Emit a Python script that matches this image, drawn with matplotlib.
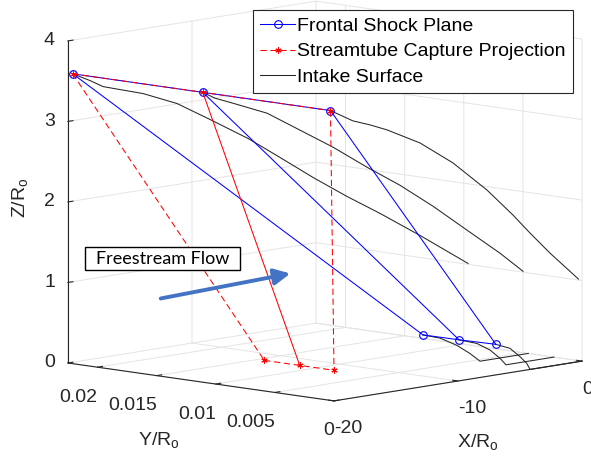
import numpy as np
import matplotlib.pyplot as plt
from matplotlib.lines import Line2D
from matplotlib.patches import FancyArrowPatch, Rectangle
from matplotlib.transforms import ScaledTranslation
from mpl_toolkits.mplot3d import proj3d

plt.rcParams['font.family'] = ['Liberation Sans', 'DejaVu Sans']
plt.rcParams['mathtext.default'] = 'regular'
plt.rcParams['axes.unicode_minus'] = False
plt.rcParams['grid.color'] = '#e4e4e4'
plt.rcParams['grid.linewidth'] = 0.7

# leading edge points (inlet plane X = -20)
top_x = [-20, -20, -20]
top_y = [0.0221, 0.0111, 0.0003]
top_z = [3.6, 3.6, 3.6]

# foot of the frontal shock plane
foot_x = [-7.2, -7.15, -6.95]
foot_y = [0.0059, 0.0029, 0.0]
foot_z = [0.38, 0.38, 0.38]

# streamtube capture projected on the inlet plane
cap_x = [-20, -20, -20]
cap_y = [0.0059, 0.0029, 0.0]
cap_z = [0.38, 0.38, 0.38]

# upper intake surface lines
s1_x = [-20, -19.12, -18.46, -17.6, -16.44, -14.72, -13.05, -11.13, -9.51, -7.84, -6.12, -4.45, -2.43, 0]
s1_y = [0.0221, 0.02155, 0.02114, 0.02061, 0.01988, 0.01881, 0.01777, 0.01657, 0.01556, 0.01452,
        0.01345, 0.01241, 0.01115, 0.00964]
s1_z = [3.6, 3.505, 3.423, 3.376, 3.313, 3.169, 2.951, 2.693, 2.438, 2.170, 1.914, 1.684, 1.387, 1.011]

s2_x = [-20, -19.23, -18.11, -17.05, -15.98, -13.92, -11.86, -9.74, -7.68, -5.62, -3.49, -1.43, 0]
s2_y = [0.0111, 0.01086, 0.01052, 0.0102, 0.00987, 0.00924, 0.00861, 0.00797, 0.00734, 0.00671,
        0.00606, 0.00543, 0.00499]
s2_z = [3.6, 3.513, 3.430, 3.349, 3.267, 3.018, 2.769, 2.482, 2.220, 1.922, 1.585, 1.261, 1.011]

s3_x = [-20, -19.07, -18.19, -16.81, -15.44, -12.78, -10.12, -7.38, -5.28, -3.91, -2.30, 0]
s3_y = [0.0003, 0.0003, 0.0003, 0.0003, 0.0003, 0.0003, 0.0003, 0.0003, 0.0003, 0.0003, 0.0003, 0.0003]
s3_z = [3.6, 3.511, 3.427, 3.343, 3.247, 3.019, 2.705, 2.301, 1.938, 1.681, 1.392, 1.012]

# lower intake surface lines
l1_x = [-7.2, -6.14, -5.21, -4.46, -3.9, 0]
l1_y = [0.0059, 0.00556, 0.00514, 0.0048, 0.00454, 0.00454]
l1_z = [0.38, 0.32, 0.218, 0.104, 0, 0]

l2_x = [-7.15, -5.91, -4.98, -4.28, -3.87, 0]
l2_y = [0.0029, 0.0027, 0.00255, 0.00244, 0.00237, 0.00237]
l2_z = [0.38, 0.309, 0.206, 0.088, 0, 0]

l3_x = [-6.95, -5.81, -5.0, -4.46, -4.19, 0]
l3_y = [0, 0, 0, 0, 0, 0]
l3_z = [0.38, 0.302, 0.178, 0.082, 0, 0]

x_ticks = [-20, -10, 0]
x_tick_labels = ['-20', '-10', '0']
y_ticks = [0, 0.005, 0.01, 0.015, 0.02]
y_tick_labels = ['0', '0.005', '0.01', '0.015', '0.02']
z_ticks = [0, 1, 2, 3, 4]
z_tick_labels = ['0', '1', '2', '3', '4']

labels = ['Frontal Shock Plane', 'Streamtube Capture Projection', 'Intake Surface']

blue = '#0000ff'
red = '#ff0000'
dark = '#262626'
ast = (6, 2, 0)
dash = (0, (6, 3.5))
lw = 0.75

W, H = 591, 461
fig = plt.figure(figsize=(W / 100, H / 100), dpi=100)
ax = fig.add_axes([0, 0, 1, 1], projection='3d', proj_type='ortho', computed_zorder=False)
ax.view_init(elev=8.7, azim=-136.7)
ax.set_box_aspect((1.11, 1.122, 1.0))

for sx, sy, sz in [(s1_x, s1_y, s1_z), (s2_x, s2_y, s2_z), (s3_x, s3_y, s3_z),
                   (l1_x, l1_y, l1_z), (l2_x, l2_y, l2_z), (l3_x, l3_y, l3_z)]:
    ax.plot(sx, sy, sz, color=dark, lw=lw, zorder=1)

for i in range(3):
    ax.plot([top_x[i], foot_x[i]], [top_y[i], foot_y[i]], [top_z[i], foot_z[i]],
            color=blue, lw=lw, zorder=2)
ax.plot(top_x, top_y, top_z, color=blue, lw=lw, marker='o', mfc='none', ms=5.5, mew=0.8, zorder=2)
ax.plot(foot_x, foot_y, foot_z, color=blue, lw=lw, marker='o', mfc='none', ms=5.5, mew=0.8, zorder=2)

ax.plot(top_x, top_y, top_z, color=red, lw=lw, ls=dash, marker=ast, ms=4.5, mew=0.7, zorder=3)
ax.plot(cap_x, cap_y, cap_z, color=red, lw=lw, ls=dash, marker=ast, ms=4.5, mew=0.7, zorder=3)
for i in (0, 2):
    ax.plot([top_x[i], cap_x[i]], [top_y[i], cap_y[i]], [top_z[i], cap_z[i]],
            color=red, lw=lw, ls=dash, zorder=3)
ax.plot([top_x[1], cap_x[1]], [top_y[1], cap_y[1]], [top_z[1], cap_z[1]],
        color=red, lw=lw, zorder=3)

ax.set_xlim(-20, 0)
ax.set_ylim(0, 0.0225)
ax.set_zlim(0, 4)
ax.set_xticks(x_ticks)
ax.set_yticks(y_ticks)
ax.set_zticks(z_ticks)
ax.tick_params(colors=dark)
ax.tick_params(axis='x', labelbottom=False)
ax.tick_params(axis='y', labelleft=False)
ax.tick_params(axis='z', labelleft=False)
for axis in (ax.xaxis, ax.yaxis, ax.zaxis):
    axis.set_pane_color((1, 1, 1, 0))
    axis.pane.set_edgecolor((1, 1, 1, 0))
    axis.line.set_color(dark)
    axis.line.set_linewidth(0.8)
    axis._axinfo['tick']['inward_factor'] = 0.0
    axis._axinfo['tick']['outward_factor'] = 0.25

fig.canvas.draw()


def proj(x, y, z):
    xs, ys, _ = proj3d.proj_transform(x, y, z, ax.M)
    return xs, ys


def shifted(dx, dy):
    # projected data coords moved by a few pixels, MATLAB-like tick label placement
    return ax.transData + ScaledTranslation(dx / 100, dy / 100, fig.dpi_scale_trans)


# fit the projected box onto the figure
corners = [(-20, 0.0225, 0), (0, 0, 0), (-20, 0, 0), (-20, 0.0225, 4), (0, 0.0225, 4)]
targets = [(68, 98), (582, 100), (334, 60), (68, 420), (316, 460)]
bb = ax.bbox
A, b = [], []
for p, t in zip(corners, targets):
    px, py = ax.transData.transform(proj(*p))
    A.append([1, 0, (px - bb.x0) / bb.width]); b.append(t[0])
    A.append([0, 1, (py - bb.y0) / bb.height]); b.append(t[1])
x0, y0, w = np.linalg.lstsq(np.array(A), np.array(b, dtype=float), rcond=None)[0]
ax.set_position([x0 / W, y0 / H, w / W, w / H])

tk = dict(fontsize=14, color=dark, va='center')
for v, s in zip(x_ticks, x_tick_labels):
    ax.text2D(*proj(v, 0, 0), s, ha='left', transform=shifted(0, -28), **tk)
for v, s in zip(y_ticks, y_tick_labels):
    ax.text2D(*proj(-20, v, 0), s, ha='right', transform=shifted(0, -30), **tk)
for v, s in zip(z_ticks, z_tick_labels):
    ax.text2D(*proj(-20, 0.0225, v), s, ha='right', transform=shifted(-13, 0), **tk)

fig.text(20 / W, 1 - 198 / H, 'Z/R$_o$', rotation=90, ha='center', va='center', fontsize=14, color=dark)
fig.text(159 / W, 1 - 440 / H, 'Y/R$_o$', ha='center', va='center', fontsize=14, color=dark)
fig.text(478 / W, 1 - 442 / H, 'X/R$_o$', ha='center', va='center', fontsize=14, color=dark)

handles = [Line2D([], [], color=blue, lw=lw, marker='o', mfc='none', ms=5.5, mew=0.8),
           Line2D([], [], color=red, lw=lw, ls=dash, marker=ast, ms=4.5, mew=0.7),
           Line2D([], [], color=dark, lw=lw)]
leg = fig.legend(handles, labels, loc='upper right', bbox_to_anchor=(573 / W, 1 - 10 / H),
                 fontsize=14, frameon=True, fancybox=False, edgecolor=dark, framealpha=1,
                 borderpad=0.38, labelspacing=0.4, handlelength=1.8, handletextpad=0.1,
                 borderaxespad=0)
leg.get_frame().set_linewidth(0.8)

fig.add_artist(Rectangle((85 / W, 1 - 270 / H), 155 / W, 23 / H, transform=fig.transFigure,
                         facecolor='white', edgecolor='black', lw=1.0, zorder=5))
fig.text(162.5 / W, 1 - 258.5 / H, 'Freestream Flow', ha='center', va='center',
         fontsize=13, family=['Lato', 'DejaVu Sans'], zorder=6)
fig.add_artist(FancyArrowPatch((158 / W, 1 - 299 / H), (293 / W, 1 - 273 / H),
                               transform=fig.transFigure, arrowstyle='-|>,head_length=0.6,head_width=0.3',
                               mutation_scale=16, color='#4472c4', lw=2.8, zorder=6))

fig.savefig('out.png', dpi=100)
